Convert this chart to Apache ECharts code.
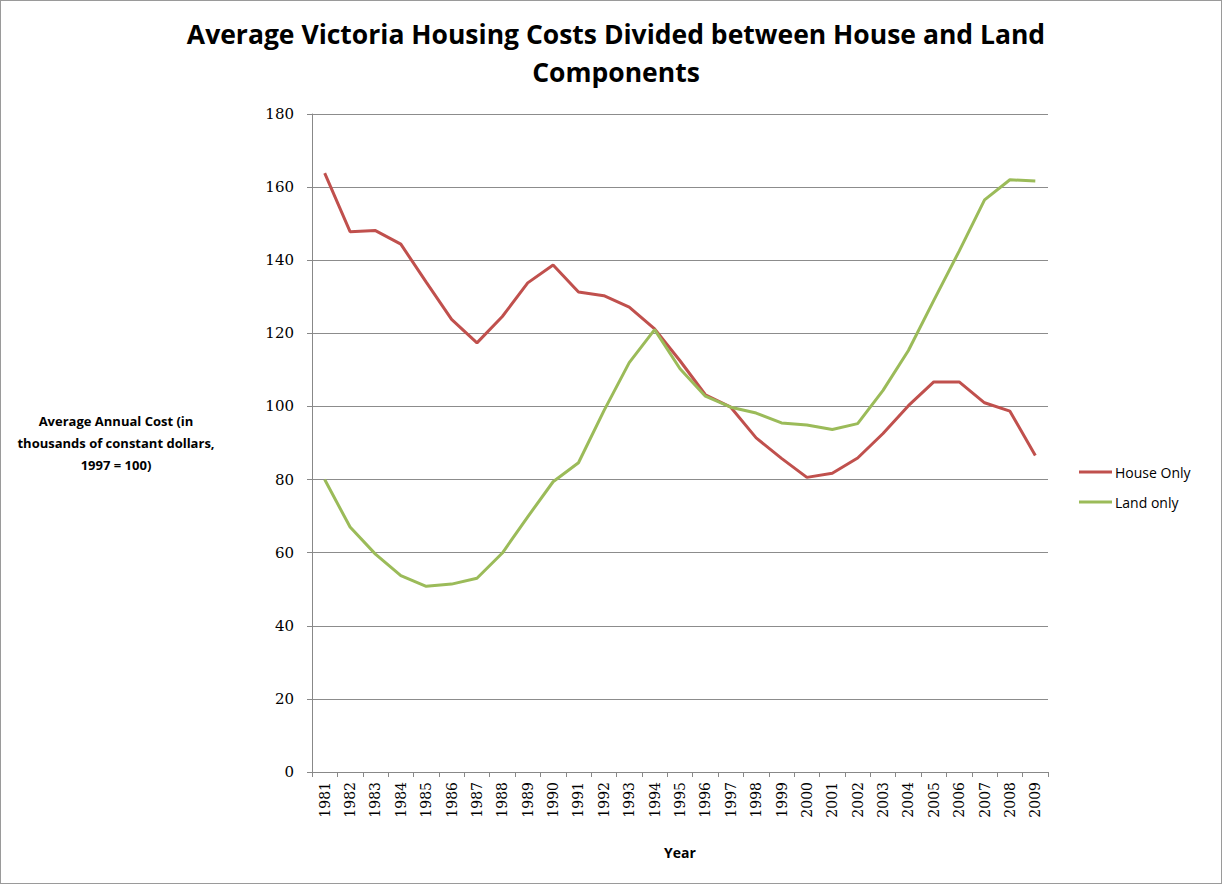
<!DOCTYPE html>
<html>
<head>
<meta charset="utf-8">
<script src="https://cdn.jsdelivr.net/npm/echarts@6/dist/echarts.min.js"></script>
<style>
  html, body { margin: 0; padding: 0; background: #fff; }
  #chart { width: 1220px; height: 882px; border: 1px solid #9a9a9a; }
</style>
</head>
<body>
<div id="chart"></div>
<script>
const years = ['1981','1982','1983','1984','1985','1986','1987','1988','1989','1990',
  '1991','1992','1993','1994','1995','1996','1997','1998','1999','2000',
  '2001','2002','2003','2004','2005','2006','2007','2008','2009'];
const houseOnly = [163.8, 147.8, 148.1, 144.4, 134, 123.8, 117.4, 124.6, 133.8, 138.7,
  131.3, 130.3, 127.2, 121.2, 112.5, 103.2, 99.8, 91.4, 85.8, 80.6,
  81.7, 85.9, 92.6, 100.2, 106.7, 106.7, 101, 98.7, 86.6];
const landOnly = [80, 67, 59.6, 53.7, 50.8, 51.4, 53, 59.9, 69.8, 79.4,
  84.6, 98.8, 112, 121, 110.3, 102.8, 99.8, 98.2, 95.5, 94.9,
  93.7, 95.3, 104.4, 115.3, 129, 142.5, 156.5, 162, 161.7];
const yTicks = { min: 0, max: 180, interval: 20 };

const chart = echarts.init(document.getElementById('chart'), null, { renderer: 'svg' });
const option = {
  animation: false,
  title: {
    text: 'Average Victoria Housing Costs Divided between House and Land\nComponents',
    left: 610,
    textAlign: 'center',
    top: 9,
    textStyle: {
      fontFamily: 'Open Sans',
      fontWeight: 'bold',
      fontSize: 26.5,
      lineHeight: 38,
      color: '#000'
    }
  },
  grid: { left: 311, right: 173, top: 113, bottom: 111 },
  legend: {
    orient: 'vertical',
    left: 1073,
    top: 459,
    itemWidth: 33,
    itemHeight: 3,
    itemGap: 16,
    icon: 'rect',
    textStyle: { fontFamily: 'Open Sans', fontSize: 14, color: '#000', padding: [0, 0, 0, -2] },
    data: ['House Only', 'Land only']
  },
  xAxis: {
    type: 'category',
    data: years,
    boundaryGap: true,
    name: 'Year',
    nameLocation: 'middle',
    nameGap: 73,
    nameTextStyle: { fontFamily: 'Open Sans', fontWeight: 'bold', fontSize: 14, color: '#000' },
    axisLine: { lineStyle: { color: '#888', width: 1 } },
    axisTick: { show: true, alignWithLabel: false, length: 5, lineStyle: { color: '#888' } },
    axisLabel: {
      rotate: 90,
      interval: 0,
      margin: 10,
      fontFamily: 'DejaVu Serif',
      fontSize: 14,
      color: '#000'
    }
  },
  yAxis: {
    type: 'value',
    min: yTicks.min,
    max: yTicks.max,
    interval: yTicks.interval,
    name: 'Average Annual Cost (in\nthousands of constant dollars,\n1997 = 100)',
    nameLocation: 'middle',
    nameRotate: 0,
    nameGap: 196,
    nameTextStyle: {
      fontFamily: 'Open Sans',
      fontWeight: 'bold',
      fontSize: 13,
      lineHeight: 22,
      color: '#000',
      align: 'center'
    },
    axisLine: { show: true, lineStyle: { color: '#888', width: 1 } },
    axisTick: { show: true, inside: false, length: 5, lineStyle: { color: '#888' } },
    splitLine: { lineStyle: { color: '#8c8c8c', width: 1 } },
    axisLabel: {
      margin: 18,
      fontFamily: 'DejaVu Serif',
      fontSize: 15,
      color: '#000'
    }
  },
  series: [
    {
      name: 'House Only',
      type: 'line',
      data: houseOnly,
      symbol: 'none',
      lineStyle: { color: '#C0504D', width: 3 },
      itemStyle: { color: '#C0504D' }
    },
    {
      name: 'Land only',
      type: 'line',
      data: landOnly,
      symbol: 'none',
      lineStyle: { color: '#9BBB59', width: 3 },
      itemStyle: { color: '#9BBB59' }
    }
  ]
};
chart.setOption(option);
</script>
</body>
</html>
